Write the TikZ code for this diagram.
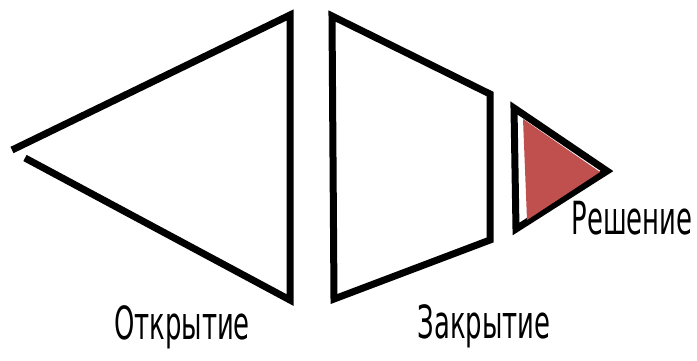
\documentclass[tikz,border=0pt]{standalone}
\usepackage{fontspec}
\setmainfont{DejaVu Sans Condensed}
\usepackage{tikz}
\usetikzlibrary{positioning, calc}
\definecolor{decisionred}{HTML}{C0504D}

\begin{document}
\begin{tikzpicture}[x=0.02cm, y=-0.02cm,
    edge/.style={line width=0.14cm, black, line join=miter},
    label/.style={font=\fontsize{26}{30}\selectfont, xscale=0.63, transform shape, inner sep=0pt}]
    \useasboundingbox (0,0) rectangle (697,360);

    % Opening triangle (gap at the tip)
    \coordinate (OTipA) at (12,150);
    \coordinate (OTop) at (290,15);
    \coordinate (OBot) at (290,300);
    \coordinate (OTipB) at (25,158);
    \draw[edge] (OTipA) -- (OTop) -- (OBot) -- (OTipB);

    % Closing trapezoid
    \coordinate (CTL) at (332,16);
    \coordinate (CTR) at (490,94);
    \coordinate (CBR) at (490,240);
    \coordinate (CBL) at (334,299);
    \draw[edge] (CTL) -- (CTR) -- (CBR) -- (CBL) -- cycle;

    % Decision triangle
    \coordinate (DTop) at (514,108);
    \coordinate (DTip) at (607,171);
    \coordinate (DBot) at (516,229);
    \draw[edge] (DTop) -- (DTip) -- (DBot) -- cycle;
    \fill[decisionred] (523,119) -- (600,172) -- (527,220) -- cycle;

    % Labels
    \node[label] (open) at (182,327) {Открытие};
    \node[label] (close) at (484,326) {Закрытие};
    \node[label] (decide) at (632,218) {Решение};

  \end{tikzpicture}
\end{document}
